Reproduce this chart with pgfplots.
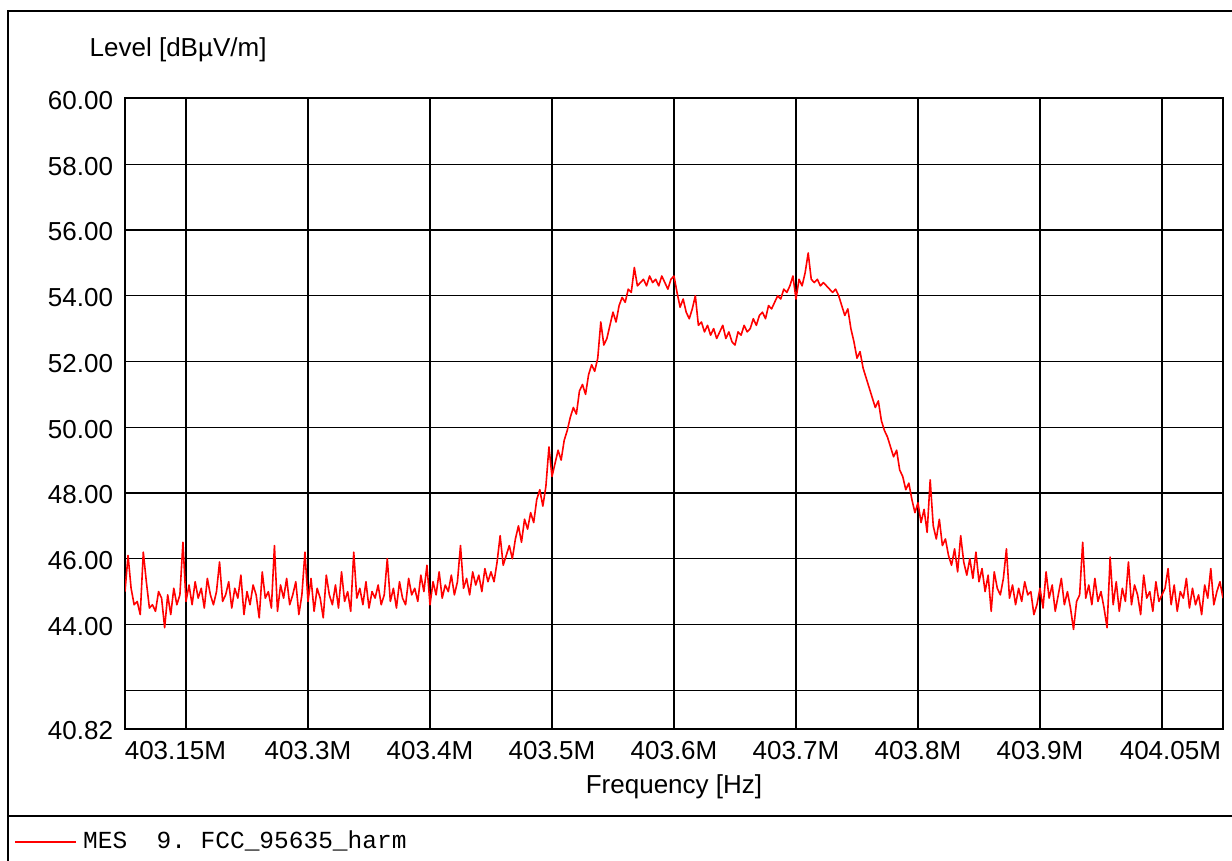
\documentclass[border=0pt]{standalone}
\usepackage{fontspec}
\setmainfont{Liberation Sans}
\newfontfamily\legmono{Liberation Mono}
\usepackage{pgfplots}
\pgfplotsset{compat=1.18}
\begin{document}
\begin{tikzpicture}
\useasboundingbox (0pt,0pt) rectangle (616pt,430.5pt);
\begin{axis}[
  at={(62.5pt,66pt)}, anchor=south west,
  scale only axis, width=549pt, height=315.25pt,
  xmin=150, xmax=1050, ymin=40.82, ymax=60,
  xtick={200,300,400,500,600,700,800,900,1000},
  xticklabels={\hspace*{-10.6pt}403.15M,403.3M,403.4M,403.5M,403.6M,403.7M,403.8M,403.9M,404.05M\hspace*{-8.4pt}},
  ytick={40.82,42,44,46,48,50,52,54,56,58,60},
  yticklabels={40.82,,44.00,46.00,48.00,50.00,52.00,54.00,56.00,58.00,60.00},
  major tick length=0pt,
  grid=major,
  major grid style={black, line width=0.7pt},
  axis line style={black, line width=1pt},
  every tick label/.append style={font=\fontsize{13}{15}\selectfont},
  xticklabel style={anchor=base, inner sep=0pt, yshift=-15.25pt},
  yticklabel style={anchor=east, inner sep=0pt, xshift=-5.8pt, yshift=-1pt},
  xlabel={Frequency [Hz]},
  xlabel style={at={(axis description cs:0.5,0)}, anchor=base, inner sep=0pt, yshift=-32.5pt, font=\fontsize{13}{15}\selectfont},
  clip=true,
]
\addplot[red, line width=0.8pt, line join=round] coordinates {
(150,45.0)(152.5,46.1)(155,45.1)(157.5,44.6)(160,44.7)(162.5,44.3)(165,46.2)(167.5,45.3)(170,44.5)(172.5,44.6)
(175,44.4)(177.5,45.0)(180,44.8)(182.5,43.9)(185,44.9)(187.5,44.3)(190,45.1)(192.5,44.6)(195,44.9)(197.5,46.5)
(200,44.7)(202.5,45.2)(205,44.6)(207.5,45.3)(210,44.8)(212.5,45.1)(215,44.5)(217.5,45.4)(220,44.9)(222.5,44.6)
(225,45.0)(227.5,45.9)(230,44.7)(232.5,44.9)(235,45.3)(237.5,44.5)(240,45.1)(242.5,44.8)(245,45.5)(247.5,44.3)
(250,45.0)(252.5,44.6)(255,45.2)(257.5,44.9)(260,44.2)(262.5,45.6)(265,44.8)(267.5,45.0)(270,44.5)(272.5,46.4)
(275,44.4)(277.5,45.2)(280,44.8)(282.5,45.4)(285,44.6)(287.5,44.9)(290,45.3)(292.5,44.3)(295,44.9)(297.5,46.2)
(300,44.7)(302.5,45.4)(305,44.4)(307.5,45.1)(310,44.8)(312.5,44.2)(315,45.5)(317.5,44.9)(320,44.6)(322.5,45.2)
(325,44.5)(327.5,45.6)(330,44.7)(332.5,45.0)(335,44.4)(337.5,46.2)(340,44.8)(342.5,45.1)(345,44.6)(347.5,45.3)
(350,44.5)(352.5,45.0)(355,44.8)(357.5,45.2)(360,44.6)(362.5,44.9)(365,46.0)(367.5,44.7)(370,45.1)(372.5,44.5)
(375,45.3)(377.5,44.8)(380,44.6)(382.5,45.4)(385,44.9)(387.5,45.1)(390,44.7)(392.5,45.5)(395,45.0)(397.5,45.8)
(400,44.6)(402.5,45.3)(405,44.9)(407.5,45.6)(410,44.8)(412.5,45.2)(415,45.0)(417.5,45.5)(420,44.9)(422.5,45.3)
(425,46.4)(427.5,45.1)(430,45.4)(432.5,44.9)(435,45.6)(437.5,45.2)(440,45.5)(442.5,45.0)(445,45.7)(447.5,45.3)
(450,45.6)(452.5,45.3)(455,45.9)(457.5,46.7)(460,45.8)(462.5,46.1)(465,46.4)(467.5,46.0)(470,46.6)(472.5,47.0)
(475,46.5)(477.5,47.2)(480,46.9)(482.5,47.4)(485,47.1)(487.5,47.8)(490,48.1)(492.5,47.6)(495,48.2)(497.5,49.4)
(500,48.5)(502.5,48.9)(505,49.3)(507.5,49.0)(510,49.6)(512.5,49.9)(515,50.3)(517.5,50.6)(520,50.4)(522.5,51.1)
(525,51.3)(527.5,51.0)(530,51.6)(532.5,51.9)(535,51.7)(537.5,52.1)(540,53.2)(542.5,52.5)(545,52.7)(547.5,53.1)
(550,53.5)(552.5,53.2)(555,53.7)(557.5,53.95)(560,53.8)(562.5,54.2)(565,54.1)(567.5,54.86)(570,54.3)(572.5,54.4)
(575,54.5)(577.5,54.3)(580,54.6)(582.5,54.4)(585,54.5)(587.5,54.3)(590,54.6)(592.5,54.4)(595,54.2)(597.5,54.5)
(600,54.6)(602.5,54.1)(605,53.65)(607.5,53.9)(610,53.5)(612.5,53.3)(615,53.6)(617.5,54.0)(620,53.1)(622.5,53.2)
(625,52.9)(627.5,53.1)(630,52.8)(632.5,53.0)(635,52.7)(637.5,52.9)(640,53.1)(642.5,52.7)(645,52.9)(647.5,52.6)
(650,52.5)(652.5,52.9)(655,52.8)(657.5,53.1)(660,52.9)(662.5,53.0)(665,53.3)(667.5,53.1)(670,53.4)(672.5,53.5)
(675,53.3)(677.5,53.7)(680,53.6)(682.5,53.8)(685,54.0)(687.5,53.9)(690,54.2)(692.5,54.1)(695,54.3)(697.5,54.6)
(700,53.9)(702.5,54.5)(705,54.3)(707.5,54.7)(710,55.3)(712.5,54.5)(715,54.4)(717.5,54.5)(720,54.3)(722.5,54.4)
(725,54.3)(727.5,54.2)(730,54.1)(732.5,54.2)(735,54.0)(737.5,53.7)(740,53.4)(742.5,53.6)(745,53.0)(747.5,52.6)
(750,52.1)(752.5,52.3)(755,51.8)(757.5,51.5)(760,51.2)(762.5,50.9)(765,50.6)(767.5,50.8)(770,50.2)(772.5,49.9)
(775,49.7)(777.5,49.4)(780,49.1)(782.5,49.3)(785,48.7)(787.5,48.5)(790,48.1)(792.5,48.3)(795,47.8)(797.5,47.4)
(800,47.7)(802.5,47.1)(805,47.5)(807.5,46.8)(810,48.4)(812.5,47.0)(815,46.6)(817.5,47.2)(820,46.4)(822.5,46.6)
(825,46.1)(827.5,45.8)(830,46.3)(832.5,45.6)(835,46.7)(837.5,45.9)(840,45.5)(842.5,46.0)(845,45.4)(847.5,46.2)
(850,45.3)(852.5,45.7)(855,45.0)(857.5,45.5)(860,44.4)(862.5,45.6)(865,45.1)(867.5,44.9)(870,45.4)(872.5,46.3)
(875,44.8)(877.5,45.2)(880,44.6)(882.5,45.1)(885,44.7)(887.5,45.3)(890,44.9)(892.5,45.0)(895,44.3)(897.5,44.6)
(900,45.1)(902.5,44.5)(905,45.6)(907.5,44.8)(910,45.2)(912.5,44.4)(915,44.9)(917.5,45.4)(920,44.6)(922.5,45.0)
(925,44.5)(927.5,43.85)(930,44.7)(932.5,44.9)(935,46.5)(937.5,44.8)(940,45.2)(942.5,44.6)(945,45.4)(947.5,44.7)
(950,45.0)(952.5,44.5)(955,43.9)(957.5,46.05)(960,44.6)(962.5,45.3)(965,44.4)(967.5,45.1)(970,44.7)(972.5,45.9)
(975,44.6)(977.5,45.2)(980,44.9)(982.5,44.3)(985,45.5)(987.5,44.8)(990,45.0)(992.5,44.4)(995,45.3)(997.5,44.7)
(1000,44.9)(1002.5,45.1)(1005,45.7)(1007.5,44.6)(1010,45.2)(1012.5,44.4)(1015,45.0)(1017.5,44.8)(1020,45.4)(1022.5,44.5)
(1025,45.1)(1027.5,44.6)(1030,44.9)(1032.5,44.3)(1035,45.2)(1037.5,44.8)(1040,45.7)(1042.5,44.6)(1045,45.0)(1047.5,45.3)
(1050,44.8)
};
\end{axis}
\draw[black, line width=0.6pt] (4pt,0pt) -- (4pt,425pt) -- (616pt,425pt);
\draw[black, line width=0.6pt] (4pt,22.5pt) -- (616pt,22.5pt);
\draw[red, line width=0.8pt] (7.5pt,9.5pt) -- (38pt,9.5pt);
\node[anchor=base west, inner sep=0pt, font=\legmono\fontsize{12.25}{14}\selectfont] at (41.35pt,6pt) {MES\ \ 9.\ FCC\_95635\_harm};
\node[anchor=base west, inner sep=0pt, font=\fontsize{13}{15}\selectfont] at (44.65pt,402.15pt) {Level [dBµV/m]};
\end{tikzpicture}
\end{document}
